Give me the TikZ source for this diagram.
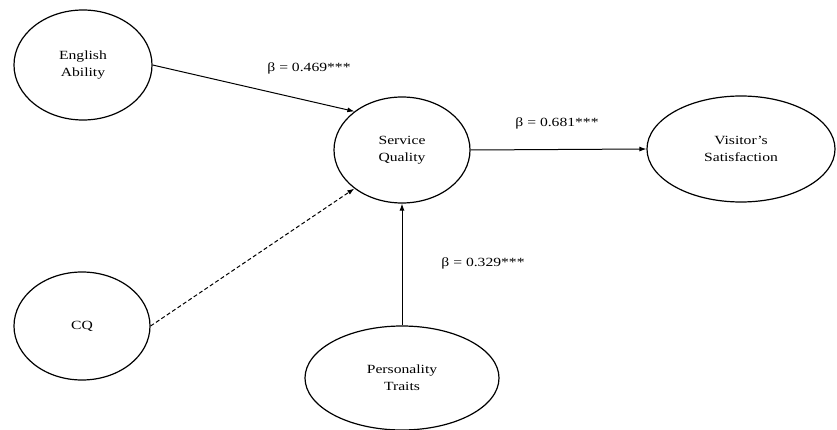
\documentclass[tikz,border=0pt]{standalone}
\usepackage{fontspec}
\setmainfont[FakeStretch=1.25]{Liberation Serif}
\usetikzlibrary{shapes.geometric,arrows.meta}
\begin{document}
\begin{tikzpicture}[x=1pt,y=-1pt,
  latent/.style={ellipse,draw,line width=1.2pt,align=center,inner sep=0pt,font=\fontsize{12.5}{17}\selectfont},
  path/.style={line width=1pt,-{Latex[length=7pt,width=5pt]}},
  beta/.style={font=\fontsize{12.5}{14}\selectfont}]
\useasboundingbox (0,0) rectangle (837,430);
\node[latent,minimum width=138pt,minimum height=110pt] (ea) at (83,65) {English\\Ability};
\node[latent,minimum width=136pt,minimum height=106pt] (sq) at (402,150) {Service\\Quality};
\node[latent,minimum width=188pt,minimum height=106pt] (vs) at (741,149) {Visitor’s\\Satisfaction};
\node[latent,minimum width=136pt,minimum height=108pt] (cq) at (82,326) {CQ};
\node[latent,minimum width=194pt,minimum height=104pt] (pt) at (402,378) {Personality\\Traits};
\draw[path] (ea.east) -- (sq.141);
\draw[path,dash pattern=on 4pt off 2.5pt] (cq.east) -- (sq.219);
\draw[path] (pt.north) -- (sq.south);
\draw[path] (sq.east) -- (vs.west);
\node[beta] (b1) at (309,68) {β = 0.469***};
\node[beta] (b2) at (557,123) {β = 0.681***};
\node[beta] (b3) at (483,263) {β = 0.329***};
\end{tikzpicture}
\end{document}
